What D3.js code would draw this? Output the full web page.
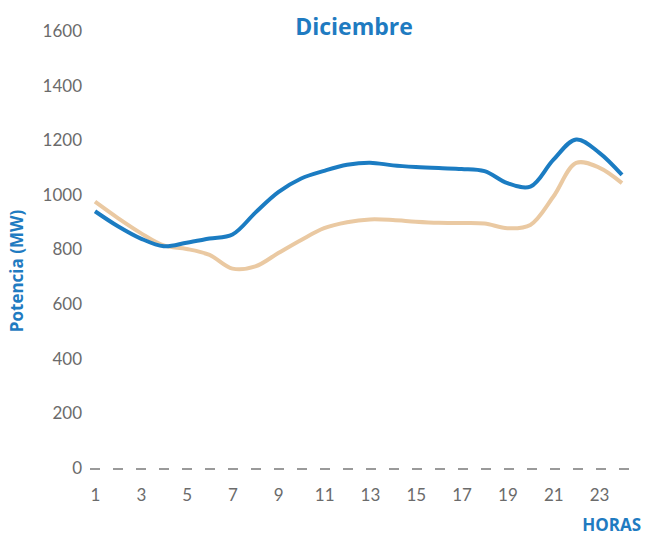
<!DOCTYPE html>
<html>
<head>
<meta charset="utf-8">
<script src="https://cdn.jsdelivr.net/npm/d3@7"></script>
<style>
  body { margin: 0; background: #fff; }
  text { font-family: Lato, "Open Sans", sans-serif; }
</style>
</head>
<body>
<svg id="chart" width="645" height="537"></svg>
<script>
// hours of the day
var hours = d3.range(1, 25);
// potencia (MW), blue series
var serieAzul = [940, 885, 840, 812, 825, 840, 855, 935, 1010, 1060, 1088, 1110,
                 1118, 1108, 1102, 1098, 1095, 1087, 1043, 1030, 1128, 1203, 1155, 1073];
// potencia (MW), beige series
var serieBeige = [975, 915, 860, 815, 802, 780, 730, 738, 787, 835, 878, 900,
                  910, 908, 902, 898, 897, 895, 878, 890, 993, 1117, 1100, 1043];
var yTicks = [0, 200, 400, 600, 800, 1000, 1200, 1400, 1600];
var xTicks = [1, 3, 5, 7, 9, 11, 13, 15, 17, 19, 21, 23];

var svg = d3.select("#chart");

var x = d3.scaleLinear().domain([1, 24]).range([95, 622]);
var y = d3.scaleLinear().domain([0, 1600]).range([468, 31]);

// title
svg.append("text")
  .attr("x", 354).attr("y", 35)
  .attr("text-anchor", "middle")
  .style("font-family", "'Open Sans', sans-serif")
  .style("font-weight", "bold")
  .style("font-size", "23px")
  .style("fill", "#1f7bc1")
  .text("Diciembre");

// y axis (labels only)
var yAxis = d3.axisLeft(y).tickValues(yTicks).tickFormat(d3.format("d")).tickSize(0).tickPadding(0);
var gy = svg.append("g").attr("transform", "translate(82,0)").call(yAxis);
gy.select(".domain").remove();
gy.selectAll("text")
  .style("font-family", "Lato, sans-serif")
  .style("font-size", "17px")
  .style("fill", "#6b6b6b");

// x axis (labels only)
var xAxis = d3.axisBottom(x).tickValues(xTicks).tickFormat(d3.format("d")).tickSize(0).tickPadding(0);
var gx = svg.append("g").attr("transform", "translate(0,489)").call(xAxis);
gx.select(".domain").remove();
gx.selectAll("text")
  .style("font-family", "Lato, sans-serif")
  .style("font-size", "17px")
  .style("fill", "#6b6b6b");

// dashed zero line
svg.append("line")
  .attr("x1", 90).attr("x2", 640)
  .attr("y1", y(0) + 1).attr("y2", y(0) + 1)
  .attr("stroke", "#9a9a9a")
  .attr("stroke-width", 2)
  .attr("stroke-dasharray", "10,13");

// axis titles
svg.append("text")
  .attr("transform", "translate(23,271) rotate(-90)")
  .attr("text-anchor", "middle")
  .style("font-family", "'Open Sans', sans-serif")
  .style("font-weight", "bold")
  .style("font-size", "17px")
  .style("fill", "#1f7bc1")
  .text("Potencia (MW)");

svg.append("text")
  .attr("x", 641).attr("y", 531)
  .attr("text-anchor", "end")
  .style("font-family", "'Open Sans', sans-serif")
  .style("font-weight", "bold")
  .style("font-size", "17px")
  .style("fill", "#1f7bc1")
  .text("HORAS");

// lines
var line = d3.line()
  .x(function(d, i) { return x(hours[i]); })
  .y(function(d) { return y(d); })
  .curve(d3.curveCatmullRom.alpha(0.5));

svg.append("path")
  .datum(serieBeige)
  .attr("d", line)
  .attr("fill", "none")
  .attr("stroke", "#eac9a2")
  .attr("stroke-width", 4);

svg.append("path")
  .datum(serieAzul)
  .attr("d", line)
  .attr("fill", "none")
  .attr("stroke", "#1b7cc2")
  .attr("stroke-width", 4);
</script>
</body>
</html>
